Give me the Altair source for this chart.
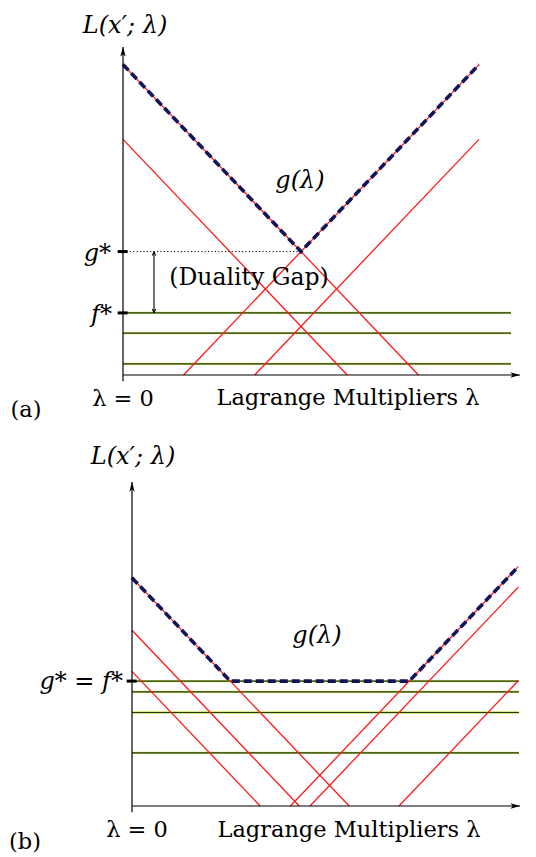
import altair as alt
import pandas as pd

# ---- panel (a): duality gap ----
A_DOWN = [8.3, 6.3]            # lines L = c - λ
A_UP = [1.7, 3.7]              # lines L = λ - c
A_UP_END = 10.0
A_FLAT = [1.66, 1.12, 0.3]     # constant lines
A_FLAT_END = 10.9
A_G_LAM = [0.0, 5.0, 10.0]     # dual function g(λ) breakpoints
A_G_VAL = [8.3, 3.3, 8.3]
A_G_STAR = 3.3
A_F_STAR = 1.66

# ---- panel (b): zero duality gap ----
B_DOWN = [6.1, 4.7, 3.6]
B_UP = [4.45, 5.0, 7.5]
B_UP_END = 10.85
B_FLAT = [3.34, 3.05, 2.5, 1.42]
B_FLAT_END = 10.87
B_G_LAM = [0.0, 2.76, 7.79, 10.85]
B_G_VAL = [6.1, 3.34, 3.34, 6.4]
B_G_STAR = 3.34

PX_X = 35.6   # pixels per unit of λ
PX_Y = 37.4   # pixels per unit of L

SERIF = "DejaVu Serif"
RED = "#ff1a1a"
GREEN = "#1f3d12"
NAVY = "#14145a"

ARROW_UP = "M0,0 L0.45,1.6 L0,1.2 L-0.45,1.6 Z"
ARROW_RIGHT = "M0,0 L-1.6,-0.45 L-1.2,0 L-1.6,0.45 Z"
OPEN_UP = "M-0.6,1.3 Q-0.1,0.5 0,0 Q0.1,0.5 0.6,1.3"
OPEN_DOWN = "M-0.6,-1.3 Q-0.1,-0.5 0,0 Q0.1,-0.5 0.6,-1.3"


def segments(down, up, up_end, flat, flat_end):
    rows = []
    for c in down:
        rows.append(dict(kind="red", lam=0.0, L=c, lam2=c, L2=0.0))
    for c in up:
        rows.append(dict(kind="red", lam=c, L=0.0, lam2=up_end, L2=up_end - c))
    for c in flat:
        rows.append(dict(kind="green", lam=0.0, L=c, lam2=flat_end, L2=c))
    return pd.DataFrame(rows)


def panel(width, height, ox, oy, down, up, up_end, flat, flat_end,
          g_lam, g_val, ticks, x_tip, y_tip, texts, extras):
    xs = alt.Scale(domain=[-ox / PX_X, (width - ox) / PX_X], nice=False, zero=False)
    ys = alt.Scale(domain=[-(height - oy) / PX_Y, oy / PX_Y], nice=False, zero=False)
    X = lambda f: alt.X(f, type="quantitative", scale=xs, axis=None)
    Y = lambda f: alt.Y(f, type="quantitative", scale=ys, axis=None)

    def rule_layer(df, **style):
        return alt.Chart(df).mark_rule(**style).encode(
            x=X("lam"), y=Y("L"), x2="lam2", y2="L2")

    seg = segments(down, up, up_end, flat, flat_end)
    red = rule_layer(seg[seg.kind == "red"], color=RED, strokeWidth=1.3)
    green_glow = rule_layer(seg[seg.kind == "green"], color="#d2dc5a", strokeWidth=2.3)
    green = rule_layer(seg[seg.kind == "green"], color=GREEN, strokeWidth=1.2)

    gdf = pd.DataFrame({"lam": g_lam, "L": g_val})
    gline = alt.Chart(gdf).mark_line(
        color=NAVY, strokeWidth=3.6, strokeDash=[8, 4]).encode(x=X("lam"), y=Y("L"))

    axes_df = pd.DataFrame([
        dict(lam=0.0, L=-0.17, lam2=0.0, L2=y_tip),
        dict(lam=0.0, L=0.0, lam2=x_tip, L2=0.0),
    ])
    axes = rule_layer(axes_df, color="black", strokeWidth=1.2)
    heads = alt.Chart(pd.DataFrame({"lam": [0.0], "L": [y_tip]})).mark_point(
        shape=ARROW_UP, size=144, filled=True, color="black", opacity=1).encode(
        x=X("lam"), y=Y("L"))
    heads_r = alt.Chart(pd.DataFrame({"lam": [x_tip], "L": [0.0]})).mark_point(
        shape=ARROW_RIGHT, size=144, filled=True, color="black", opacity=1).encode(
        x=X("lam"), y=Y("L"))

    tick_df = pd.DataFrame({"lam": [-0.15] * len(ticks), "lam2": [0.13] * len(ticks),
                            "L": ticks, "L2": ticks})
    tick_marks = rule_layer(tick_df, color="black", strokeWidth=3)

    layers = [green_glow, green, red, gline, axes, heads, heads_r, tick_marks]
    layers += [e(X, Y, rule_layer) for e in extras]

    for t in texts:
        layers.append(
            alt.Chart(pd.DataFrame({"t": [t["text"]]})).mark_text(
                font=SERIF, fontSize=t.get("size", 22.5), fontStyle=t.get("style", "normal"),
                align=t.get("align", "center"), baseline="middle", color="black"
            ).encode(x=alt.value(t["x"]), y=alt.value(t["y"]), text="t:N")
        )

    return alt.layer(*layers).properties(width=width, height=height)


def gap_dotted(X, Y, rule_layer):
    df = pd.DataFrame([dict(lam=0.0, L=A_G_STAR, lam2=A_G_LAM[1], L2=A_G_STAR)])
    return rule_layer(df, color="black", strokeWidth=1, strokeDash=[1.2, 2.2])


def gap_arrow(X, Y, rule_layer):
    df = pd.DataFrame([dict(lam=0.87, L=A_F_STAR, lam2=0.87, L2=A_G_STAR)])
    return rule_layer(df, color="black", strokeWidth=1.1)


def gap_head_up(X, Y, rule_layer):
    df = pd.DataFrame({"lam": [0.87], "L": [A_G_STAR]})
    return alt.Chart(df).mark_point(shape=OPEN_UP, size=36, filled=False, color="black",
                                    strokeWidth=1.1, opacity=1).encode(x=X("lam"), y=Y("L"))


def gap_head_down(X, Y, rule_layer):
    df = pd.DataFrame({"lam": [0.87], "L": [A_F_STAR]})
    return alt.Chart(df).mark_point(shape=OPEN_DOWN, size=36, filled=False, color="black",
                                    strokeWidth=1.1, opacity=1).encode(x=X("lam"), y=Y("L"))


ox_a, oy_a = 123, 375
texts_a = [
    dict(text="L(x′; λ)", x=125, y=26, style="italic", size=24),
    dict(text="g(λ)", x=300, y=181, style="italic", size=24),
    dict(text="(Duality Gap)", x=249, y=278, size=23.5),
    dict(text="g*", x=111, y=oy_a - A_G_STAR * PX_Y + 2, style="italic", align="right", size=24),
    dict(text="f*", x=112, y=oy_a - A_F_STAR * PX_Y + 2, style="italic", align="right", size=24),
    dict(text="λ = 0", x=123, y=399),
    dict(text="Lagrange Multipliers λ", x=348, y=398),
    dict(text="(a)", x=26, y=410),
]
chart_a = panel(536, 420, ox_a, oy_a, A_DOWN, A_UP, A_UP_END, A_FLAT, A_FLAT_END,
                A_G_LAM, A_G_VAL, [A_G_STAR, A_F_STAR], 11.15, 8.77, texts_a,
                [gap_dotted, gap_arrow, gap_head_up, gap_head_down])

ox_b, oy_b = 132, 386
texts_b = [
    dict(text="L(x′; λ)", x=133, y=37, style="italic", size=24),
    dict(text="g(λ)", x=317, y=216, style="italic", size=24),
    dict(text="g* = f*", x=123, y=oy_b - B_G_STAR * PX_Y + 1, style="italic", align="right", size=24),
    dict(text="λ = 0", x=137, y=410),
    dict(text="Lagrange Multipliers λ", x=349, y=410),
    dict(text="(b)", x=25, y=422),
]
chart_b = panel(536, 437, ox_b, oy_b, B_DOWN, B_UP, B_UP_END, B_FLAT, B_FLAT_END,
                B_G_LAM, B_G_VAL, [B_G_STAR], 10.9, 8.66, texts_b, [])

chart = alt.vconcat(chart_a, chart_b, spacing=0, bounds="flush").properties(
    padding=0, background="white"
).configure_view(stroke=None)

chart.save("out.html", embed_options={"renderer": "svg", "actions": False})
